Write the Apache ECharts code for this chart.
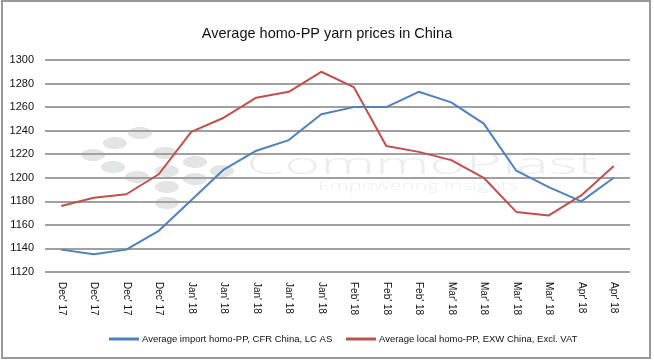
<!DOCTYPE html>
<html>
<head>
<meta charset="utf-8">
<script src="https://cdn.jsdelivr.net/npm/echarts@6/dist/echarts.min.js"></script>
<style>html,body{margin:0;padding:0;background:#fff}#c{width:654px;height:362px}</style>
</head>
<body>
<div id="c"></div>
<script>
const categories = ["Dec' 17","Dec' 17","Dec' 17","Dec' 17","Jan' 18","Jan' 18","Jan' 18","Jan' 18","Jan' 18","Feb' 18","Feb' 18","Feb' 18","Mar' 18","Mar' 18","Mar' 18","Mar' 18","Apr' 18","Apr' 18"];
const importName = "Average import homo-PP, CFR China, LC AS";
const localName = "Average local homo-PP, EXW China, Excl. VAT";
const importValues = [1139,1135,1139,1155,1181,1207,1223,1232,1254,1260,1260,1273,1264,1246,1206,1192,1180,1200];
const localValues = [1176,1183,1186,1203,1239,1251,1268,1273,1290,1277,1227,1222,1215,1200,1171,1168,1185,1210];
const yTicks = {min:1120, max:1300, interval:20};

const FONT = "'Liberation Sans',sans-serif";
const mctx = document.createElement('canvas').getContext('2d');
function fitScale(text, font, width){ mctx.font = font; return width / mctx.measureText(text).width; }

const dotColor = '#e3e5e5';
const dots = [[140,133],[115,143],[93,155],[165,153],[113,167],[195,162],[137,177],[167,171],[222,171],[195,179],[167,187],[167,203]];
const graphics = dots.map(d => ({type:'ellipse', z:-10, silent:true, shape:{cx:d[0],cy:d[1],rx:12,ry:6}, style:{fill:dotColor}}));
const logoFont = "300 30px 'Open Sans', sans-serif";
const subFont = "300 12px 'Open Sans', sans-serif";
graphics.push({type:'text', z:-10, silent:true, x:246, y:150, scaleX:fitScale('CommoPlast', logoFont, 352), style:{text:'CommoPlast', font:logoFont, fill:'#eceeee'}});
graphics.push({type:'text', z:-10, silent:true, x:318, y:181, scaleX:fitScale('Empowering Insights', subFont, 200), style:{text:'Empowering Insights', font:subFont, fill:'#eceeee'}});
graphics.push({type:'rect', z:100, silent:true, shape:{x:2,y:1,width:648,height:357}, style:{fill:'none', stroke:'#999', lineWidth:2}});

const chart = echarts.init(document.getElementById('c'), null, {renderer:'canvas'});
chart.setOption({
  animation:false,
  backgroundColor:'#fff',
  title:{text:'Average homo-PP yarn prices in China', left:'center', top:21, textStyle:{fontFamily:FONT, fontSize:14.5, fontWeight:'normal', color:'#111'}},
  graphic: graphics,
  legend:[
    {data:[importName], left:104, top:329, icon:'rect', itemWidth:30, itemHeight:3, itemGap:4, textStyle:{fontFamily:FONT, fontSize:9.5, color:'#111', padding:[0,0,0,-2]}},
    {data:[localName], left:341, top:329, icon:'rect', itemWidth:30, itemHeight:3, itemGap:4, textStyle:{fontFamily:FONT, fontSize:9.5, color:'#111', padding:[0,0,0,-2]}}
  ],
  grid:{left:45, right:24, top:60, bottom:90, containLabel:false},
  xAxis:{type:'category', data:categories, boundaryGap:true,
    axisLine:{show:false}, axisTick:{show:false},
    axisLabel:{rotate:-90, interval:0, margin:10, fontFamily:FONT, fontSize:10, color:'#111'}},
  yAxis:{type:'value', min:yTicks.min, max:yTicks.max, interval:yTicks.interval,
    axisLine:{show:false}, axisTick:{show:false},
    axisLabel:{margin:11, fontFamily:FONT, fontSize:11, color:'#111', formatter:v => String(v)},
    splitLine:{lineStyle:{color:'#a0a0a0', width:2}}},
  series:[
    {name:importName, type:'line', data:importValues, symbol:'none', lineStyle:{color:'#4f81bd', width:2}, itemStyle:{color:'#4f81bd'}, z:5},
    {name:localName, type:'line', data:localValues, symbol:'none', lineStyle:{color:'#c0504d', width:2}, itemStyle:{color:'#c0504d'}, z:4}
  ]
});
</script>
</body>
</html>
